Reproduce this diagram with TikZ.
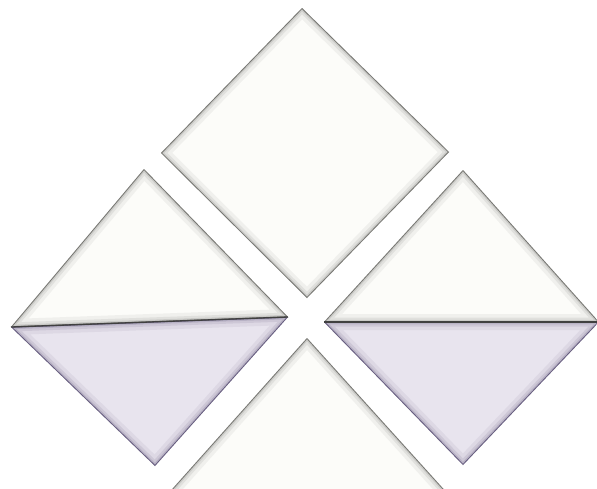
\documentclass[tikz,border=0pt]{standalone}
\usetikzlibrary{calc}
\definecolor{paper}{HTML}{FCFCF9}
\definecolor{lav}{HTML}{E8E4EE}
\definecolor{edgegray}{HTML}{6E6E6A}
\definecolor{edgelav}{HTML}{5E5478}
\newcommand{\bevelpoly}[3]{%
  \begin{scope}
    \fill[#2] #1 -- cycle;
    \clip #1 -- cycle;
    \draw[#3, opacity=0.08, line width=16pt, line join=miter] #1 -- cycle;
    \draw[#3, opacity=0.12, line width=9pt, line join=miter] #1 -- cycle;
    \draw[#3, opacity=0.18, line width=4.5pt, line join=miter] #1 -- cycle;
    \draw[#3, opacity=0.9, line width=1.6pt, line join=miter] #1 -- cycle;
  \end{scope}}
\begin{document}
\begin{tikzpicture}[x=1pt,y=-1pt]
\useasboundingbox (0,0) rectangle (597,488);
\fill[white] (0,0) rectangle (597,488);
% top diamond
\bevelpoly{(302,8) -- (449,152) -- (307,298) -- (161,153)}{paper}{edgegray}
% left diamond upper half
\bevelpoly{(11,327) -- (144,169) -- (288,317)}{paper}{edgegray}
% left diamond lower half
\bevelpoly{(11,327) -- (288,317) -- (155,466)}{lav}{edgelav}
% right diamond upper half
\bevelpoly{(324,322) -- (463,170) -- (599,322)}{paper}{edgegray}
% right diamond lower half
\bevelpoly{(324,322) -- (599,322) -- (463,465)}{lav}{edgelav}
% dividing lines
\draw[black!75, line width=1.3pt] (11,327) -- (288,317);
\draw[black!75, line width=1.3pt] (324,322) -- (599,322);
% bottom triangle (cut off)
\begin{scope}
\clip (0,0) rectangle (597,488);
\bevelpoly{(307,338) -- (458,505) -- (158,505)}{paper}{edgegray}
\end{scope}
\end{tikzpicture}
\end{document}
